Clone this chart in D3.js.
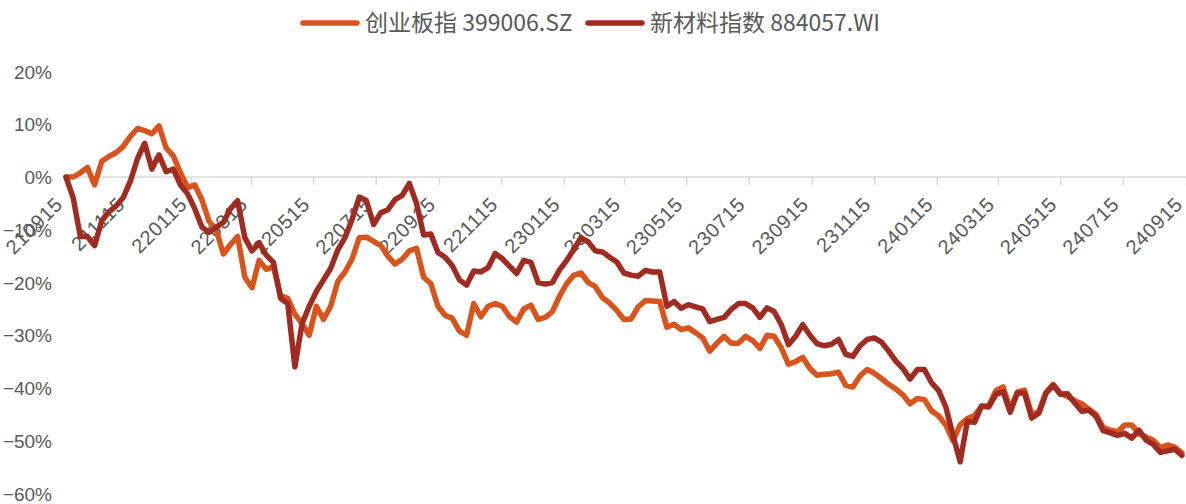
<!DOCTYPE html>
<html><head><meta charset="utf-8">
<script src="https://cdn.jsdelivr.net/npm/d3@7"></script>
<style>
html,body{margin:0;padding:0;background:#fff;}
svg{display:block;}
</style></head>
<body>
<svg id="chart" width="1186" height="504"></svg>
<script>
// ---- data ----
const seriesNames = ["创业板指 399006.SZ", "新材料指数 884057.WI"];
const startDate = "2021-09-15";   // weekly observations
const stepDays = 7;
const chinext = [0,0,0.8,1.8,-1.5,3,3.9,4.6,5.8,7.7,9.2,8.8,8.2,9.7,5.5,4,0.8,-2,-1.5,-4.3,-8.4,-10,-14.6,-12.8,-11.3,-19,-21,-15.8,-17.5,-17,-22.5,-23,-26,-27.8,-30,-24.5,-27,-24.5,-19.8,-18,-15.5,-11.5,-11.4,-12.2,-13,-15,-16.5,-15.6,-14,-13.5,-19,-20.2,-24.5,-26.2,-26.8,-29.2,-30,-24,-26.5,-24.5,-24,-24.5,-26.5,-27.5,-25,-24.3,-27,-26.6,-25.5,-22.6,-20.2,-18.6,-18.2,-20,-20.8,-22.9,-23.9,-25.3,-27,-26.9,-24.6,-23.4,-23.5,-23.6,-28.5,-27.9,-28.9,-28.6,-29.5,-30.5,-33,-31.5,-30.2,-31.5,-31.5,-30.2,-31,-32.5,-30,-30.2,-32.4,-35.5,-35,-34.2,-36.3,-37.6,-37.4,-37.3,-37,-39.5,-39.8,-37.7,-36.5,-37.2,-38.2,-39.3,-40.2,-41.3,-43,-42,-42.2,-44.3,-45.3,-47,-50,-47,-45.8,-45.2,-43.5,-43.4,-40.5,-39.8,-44,-40.8,-40.4,-45,-44.5,-40.8,-39.3,-41,-41.6,-42.4,-43,-44,-45,-47.5,-48,-48.3,-47,-47,-48.7,-49.3,-49.9,-51.3,-50.8,-51.2,-52.3];
const newMaterial = [0,-3.9,-11.3,-11.3,-13,-8.3,-6.6,-5.5,-3.9,-0.8,3.5,6.4,1.5,4.2,1,1.5,-1.5,-3.2,-6,-9.5,-10.5,-9.5,-8.6,-6,-4.5,-11.5,-14,-12.5,-14.8,-16.2,-23,-24,-36,-27.8,-24.5,-21.7,-19.5,-17.3,-13.8,-11.5,-8,-3.8,-4.5,-9,-6.8,-6.2,-4.3,-3.5,-1.2,-5,-11,-10.8,-14.3,-15.2,-16.8,-19.5,-20.5,-17.8,-18,-17.2,-14.5,-15.5,-16.9,-18.3,-15.8,-16.2,-20,-20.3,-20,-17.6,-15.8,-13.7,-11.5,-12.3,-14,-14.2,-15.2,-16.1,-18.2,-18.6,-18.8,-17.7,-18,-18,-24.5,-23.6,-24.9,-24.2,-24.6,-25,-27.4,-27,-26.6,-25.1,-24,-24,-24.8,-26.6,-24.8,-25.5,-28,-31.8,-30.2,-28,-30,-31.6,-32,-31.7,-30.8,-33.6,-34,-32,-30.8,-30.5,-31.3,-33,-34.9,-36.3,-38.3,-36.5,-36.5,-39,-40.5,-43.6,-49,-54,-46.3,-46.5,-43.4,-43.6,-41.2,-40.7,-44.6,-40.9,-41,-45.7,-44.8,-41,-39.5,-41.2,-41.1,-42.8,-44.4,-44.2,-45.4,-48.1,-48.5,-49,-48.6,-49.5,-48,-49.9,-50.7,-52.2,-51.9,-51.6,-52.8];
const xTickLabels = ["210915","211115","220115","220315","220515","220715","220915","221115","230115","230315","230515","230715","230915","231115","240115","240315","240515","240715","240915"];
const yTicks = [20,10,0,-10,-20,-30,-40,-50,-60];
const colors = ["#D9541C", "#A02B20"];

// ---- build ----
const svg = d3.select("#chart");
const parseDay = d3.timeParse("%Y-%m-%d");
const parseTick = d3.timeParse("%y%m%d");
const t0 = parseDay(startDate);
const dates = chinext.map((_, i) => d3.timeDay.offset(t0, i * stepDays));

const x = d3.scaleTime()
  .domain([parseTick(xTickLabels[0]), parseTick(xTickLabels[xTickLabels.length - 1])])
  .range([66, 1186]);
const y = d3.scaleLinear().domain([-60, 20]).range([493.5, 71.5]);

// y labels
const yAxis = d3.axisLeft(y).tickValues(yTicks)
  .tickFormat(d => (d < 0 ? "\u2212" + Math.abs(d) : d) + "%")
  .tickSize(0).tickPadding(0);
const gy = svg.append("g").attr("transform", "translate(52,0)").call(yAxis);
gy.select(".domain").remove();
gy.selectAll("text")
  .attr("font-family", "Liberation Sans, Arial, sans-serif")
  .attr("font-size", 19).attr("fill", "#595959").attr("dy", "0.35em");

// zero axis line with ticks
const y0 = y(0);
const xAxis = d3.axisBottom(x)
  .tickValues(xTickLabels.map(parseTick))
  .tickSize(8).tickFormat("");
const gx = svg.append("g").attr("transform", `translate(0,${y0})`).call(xAxis);
gx.select(".domain").attr("stroke", "#d9d9d9").attr("stroke-width", 1.5).attr("d", `M66,0H1186`);
gx.selectAll(".tick line").attr("stroke", "#d9d9d9").attr("stroke-width", 1.5);

// x tick labels (under the series), rotated -45
const lab = svg.append("g");
xTickLabels.forEach(l => {
  lab.append("text")
    .attr("transform", `translate(${x(parseTick(l)) - 6},${y0 + 25}) rotate(-45)`)
    .attr("text-anchor", "end")
    .attr("dominant-baseline", "middle")
    .attr("font-family", "Liberation Sans, Arial, sans-serif")
    .attr("font-size", 20).attr("letter-spacing", 0.6).attr("fill", "#595959")
    .text(l);
});

// lines
const line = d3.line().x((d, i) => x(dates[i])).y(d => y(d)).curve(d3.curveLinear);
[chinext, newMaterial].forEach((s, i) => {
  svg.append("path").datum(s)
    .attr("fill", "none").attr("stroke", colors[i])
    .attr("stroke-width", 5.5).attr("stroke-linejoin", "round").attr("stroke-linecap", "round")
    .attr("d", line);
});

// legend
const leg = svg.append("g");
const legItems = [{x0: 303, tx: 365}, {x0: 588, tx: 650}];
seriesNames.forEach((n, i) => {
  leg.append("line").attr("x1", legItems[i].x0).attr("x2", legItems[i].x0 + 54)
    .attr("y1", 23).attr("y2", 23)
    .attr("stroke", colors[i]).attr("stroke-width", 5.5).attr("stroke-linecap", "round");
  leg.append("text").attr("x", legItems[i].tx).attr("y", 23).attr("dy", "0.35em")
    .attr("font-family", "Noto Sans CJK SC, sans-serif")
    .attr("font-size", 23).attr("fill", "#595959").text(n);
});
</script>
</body></html>
